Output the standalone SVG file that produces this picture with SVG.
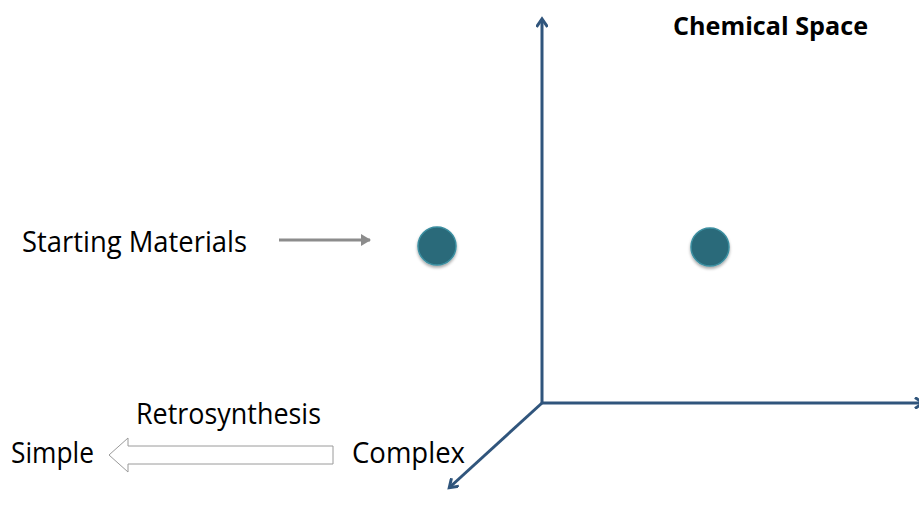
<svg xmlns="http://www.w3.org/2000/svg" width="919" height="514" viewBox="0 0 919 514">
<style>
.t{font-family:"Open Sans","Liberation Sans",sans-serif;font-size:29px;fill:#000}
.b{font-weight:bold;font-size:25px}
.ax{stroke:#30557c;stroke-width:3;fill:none}
.dot{fill:#2a6b7a;stroke:#3b8ea0;stroke-width:1.5}
</style>
<defs>
<marker id="ah" markerWidth="12" markerHeight="12" refX="8" refY="6" orient="auto" markerUnits="userSpaceOnUse">
<path d="M1,0.5 L9,6 L1,11.5" fill="none" stroke="#30557c" stroke-width="3"/>
</marker>
<marker id="ag" markerWidth="12" markerHeight="12" refX="9" refY="6" orient="auto" markerUnits="userSpaceOnUse">
<path d="M0,0 L10,6 L0,12 Z" fill="#8c8c8c"/>
</marker>
<filter id="sh" x="-50%" y="-50%" width="200%" height="200%">
<feDropShadow dx="0" dy="2" stdDeviation="1.5" flood-color="#000" flood-opacity="0.35"/>
</filter>
</defs>
<g id="connectors">
<line class="ax" x1="542" y1="403" x2="542" y2="20" marker-end="url(#ah)"/>
<line class="ax" x1="542" y1="403" x2="922" y2="403" marker-end="url(#ah)"/>
<line class="ax" x1="542" y1="403" x2="450" y2="487" marker-end="url(#ah)"/>
<line x1="279" y1="240" x2="370" y2="240" stroke="#8c8c8c" stroke-width="3" marker-end="url(#ag)"/>
<path d="M333,446 L128,446 L128,438 L109,455 L128,472 L128,464 L333,464 Z" fill="#fff" stroke="#9a9a9a" stroke-width="1"/>
</g>
<g id="dot1"><circle class="dot" cx="437" cy="246" r="19" filter="url(#sh)"/></g>
<g id="dot2"><circle class="dot" cx="710" cy="247" r="19" filter="url(#sh)"/></g>
<g id="title"><text class="t b" x="673" y="35" textLength="195" lengthAdjust="spacingAndGlyphs">Chemical Space</text></g>
<g id="start"><text class="t" x="22" y="252" textLength="225" lengthAdjust="spacingAndGlyphs">Starting Materials</text></g>
<g id="retro"><text class="t" x="136" y="424" textLength="185" lengthAdjust="spacingAndGlyphs">Retrosynthesis</text></g>
<g id="simple"><text class="t" x="11" y="463" textLength="83" lengthAdjust="spacingAndGlyphs">Simple</text></g>
<g id="complex"><text class="t" x="352" y="463" textLength="113" lengthAdjust="spacingAndGlyphs">Complex</text></g>
</svg>
